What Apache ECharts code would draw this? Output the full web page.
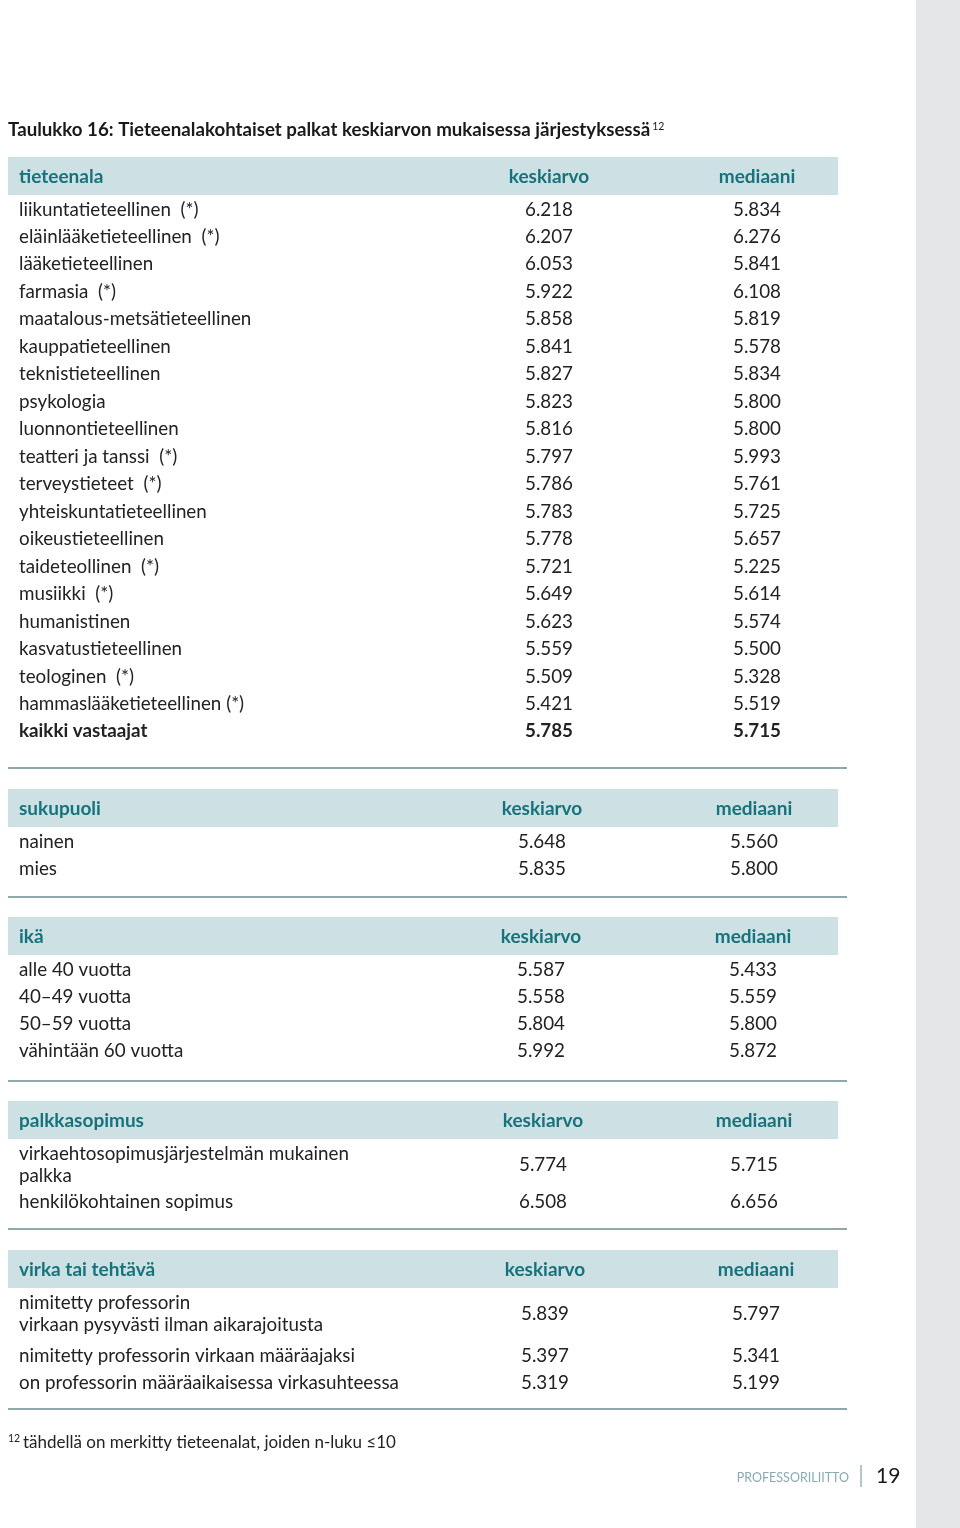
<!DOCTYPE html>
<html><head><meta charset="utf-8">
<script src="https://cdn.jsdelivr.net/npm/echarts@6/dist/echarts.min.js"></script>
<style>html,body{margin:0;padding:0;background:#fff}#main{width:960px;height:1528px}</style>
</head><body><div id="main"></div>
<script>
// ---- data ----
const titleText = 'Taulukko 16: Tieteenalakohtaiset palkat keskiarvon mukaisessa järjestyksessä';
const titleNote = '12';
const colHeaders = ['keskiarvo', 'mediaani'];
const sectionHeaders = ['tieteenala', 'sukupuoli', 'ikä', 'palkkasopimus', 'virka tai tehtävä'];

const fieldLabels = ['liikuntatieteellinen  (*)', 'eläinlääketieteellinen  (*)', 'lääketieteellinen', 'farmasia  (*)',
  'maatalous-metsätieteellinen', 'kauppatieteellinen', 'teknistieteellinen', 'psykologia', 'luonnontieteellinen',
  'teatteri ja tanssi  (*)', 'terveystieteet  (*)', 'yhteiskuntatieteellinen', 'oikeustieteellinen',
  'taideteollinen  (*)', 'musiikki  (*)', 'humanistinen', 'kasvatustieteellinen', 'teologinen  (*)',
  'hammaslääketieteellinen (*)'];
const fieldMean = [6.218, 6.207, 6.053, 5.922, 5.858, 5.841, 5.827, 5.823, 5.816, 5.797, 5.786, 5.783, 5.778, 5.721, 5.649, 5.623, 5.559, 5.509, 5.421];
const fieldMedian = [5.834, 6.276, 5.841, 6.108, 5.819, 5.578, 5.834, 5.800, 5.800, 5.993, 5.761, 5.725, 5.657, 5.225, 5.614, 5.574, 5.500, 5.328, 5.519];
const totalLabel = 'kaikki vastaajat';
const totalMean = 5.785;
const totalMedian = 5.715;

const genderLabels = ['nainen', 'mies'];
const genderMean = [5.648, 5.835];
const genderMedian = [5.560, 5.800];

const ageLabels = ['alle 40 vuotta', '40–49 vuotta', '50–59 vuotta', 'vähintään 60 vuotta'];
const ageMean = [5.587, 5.558, 5.804, 5.992];
const ageMedian = [5.433, 5.559, 5.800, 5.872];

const contractLabels = ['virkaehtosopimusjärjestelmän mukainen\npalkka', 'henkilökohtainen sopimus'];
const contractMean = [5.774, 6.508];
const contractMedian = [5.715, 6.656];

const positionLabels = ['nimitetty professorin\nvirkaan pysyvästi ilman aikarajoitusta', 'nimitetty professorin virkaan määräajaksi', 'on professorin määräaikaisessa virkasuhteessa'];
const positionMean = [5.839, 5.397, 5.319];
const positionMedian = [5.797, 5.341, 5.199];

const footnoteMark = '12';
const footnoteText = 'tähdellä on merkitty tieteenalat, joiden n-luku ≤10';
const footerBrand = 'PROFESSORILIITTO';
const pageNumber = '19';

// ---- layout ----
const FONT = 'Lato, "Open Sans", sans-serif';
const TXT = '#222222';
const HEAD_BG = '#cde0e4';
const HEAD_TXT = '#17737b';
const RULE = '#8fa8aa';

const cv = document.createElement('canvas').getContext('2d');
function measure(t, size, weight) { cv.font = (weight || 'normal') + ' ' + size + 'px ' + FONT; return cv.measureText(t).width; }

const fmt = v => v.toFixed(3);

const sections = [
  {head: sectionHeaders[0], labels: fieldLabels.concat([totalLabel]), mean: fieldMean.concat([totalMean]), median: fieldMedian.concat([totalMedian]), boldLast: true,
   top: 157, ruleY: 768, meanX: 549, medX: 757, step: 27.47, multiGap: 27},
  {head: sectionHeaders[1], labels: genderLabels, mean: genderMean, median: genderMedian, top: 789, ruleY: 897, meanX: 542, medX: 754, step: 27.3, multiGap: 27},
  {head: sectionHeaders[2], labels: ageLabels, mean: ageMean, median: ageMedian, top: 917, ruleY: 1081, meanX: 541, medX: 753, step: 27.3, multiGap: 27},
  {head: sectionHeaders[3], labels: contractLabels, mean: contractMean, median: contractMedian, top: 1101, ruleY: 1229, meanX: 543, medX: 754, step: 27.3, multiGap: 26},
  {head: sectionHeaders[4], labels: positionLabels, mean: positionMean, median: positionMedian, top: 1250, ruleY: 1409, meanX: 545, medX: 756, step: 27.3, multiGap: 31}
];

const g = [];
// right gray strip
g.push({type: 'rect', shape: {x: 916, y: 0, width: 44, height: 1528}, style: {fill: '#e4e6e7'}, silent: true});

// title
const titleSize = 18.7;
g.push({type: 'text', x: 8, y: 130, style: {text: titleText, fontFamily: FONT, fontSize: titleSize, fontWeight: 'bold', fill: '#1a1a1a', verticalAlign: 'middle'}});
g.push({type: 'text', x: 8 + measure(titleText, titleSize, 'bold') + 2, y: 127, style: {text: titleNote, fontFamily: FONT, fontSize: 10.5, fill: '#1a1a1a', verticalAlign: 'middle'}});

const ROW_SIZE = 18.8;
const LINE_H = 22;
sections.forEach(s => {
  g.push({type: 'rect', shape: {x: 8, y: s.top, width: 830, height: 38}, style: {fill: HEAD_BG}});
  const hy = s.top + 20;
  g.push({type: 'text', x: 19, y: hy, style: {text: s.head, fontFamily: FONT, fontSize: 19, fontWeight: 'bold', fill: HEAD_TXT, verticalAlign: 'middle'}});
  g.push({type: 'text', x: s.meanX, y: hy, style: {text: colHeaders[0], fontFamily: FONT, fontSize: 19, fontWeight: 'bold', fill: HEAD_TXT, align: 'center', verticalAlign: 'middle'}});
  g.push({type: 'text', x: s.medX, y: hy, style: {text: colHeaders[1], fontFamily: FONT, fontSize: 19, fontWeight: 'bold', fill: HEAD_TXT, align: 'center', verticalAlign: 'middle'}});
  let y = s.top + 52.5;
  s.labels.forEach((lab, i) => {
    const lines = lab.split('\n').length;
    const bold = s.boldLast && i === s.labels.length - 1;
    const w = bold ? 'bold' : 'normal';
    const vy = y + (lines - 1) * LINE_H / 2;
    g.push({type: 'text', x: 19, y: vy, style: {text: lab, fontFamily: FONT, fontSize: ROW_SIZE, fontWeight: w, fill: TXT, verticalAlign: 'middle', lineHeight: LINE_H}});
    g.push({type: 'text', x: s.meanX, y: vy, style: {text: fmt(s.mean[i]), fontFamily: FONT, fontSize: ROW_SIZE, fontWeight: w, fill: TXT, align: 'center', verticalAlign: 'middle'}});
    g.push({type: 'text', x: s.medX, y: vy, style: {text: fmt(s.median[i]), fontFamily: FONT, fontSize: ROW_SIZE, fontWeight: w, fill: TXT, align: 'center', verticalAlign: 'middle'}});
    y += lines > 1 ? (lines - 1) * LINE_H + s.multiGap : s.step;
  });
  g.push({type: 'line', shape: {x1: 8, y1: s.ruleY, x2: 847, y2: s.ruleY}, style: {stroke: RULE, lineWidth: 2}});
});

// footnote
g.push({type: 'text', x: 8, y: 1439, style: {text: footnoteMark, fontFamily: FONT, fontSize: 10.5, fill: TXT, verticalAlign: 'middle'}});
g.push({type: 'text', x: 23, y: 1443, style: {text: footnoteText, fontFamily: FONT, fontSize: 17, fill: TXT, verticalAlign: 'middle'}});

// footer
g.push({type: 'text', x: 849, y: 1478, style: {text: footerBrand, fontFamily: FONT, fontSize: 12.5, fill: '#8aaab3', align: 'right', verticalAlign: 'middle'}});
g.push({type: 'line', shape: {x1: 861, y1: 1465, x2: 861, y2: 1487}, style: {stroke: '#9ab3b8', lineWidth: 1.5}});
g.push({type: 'text', x: 876, y: 1476, style: {text: pageNumber, fontFamily: FONT, fontSize: 21, fill: '#1a1a1a', verticalAlign: 'middle'}});

const chart = echarts.init(document.getElementById('main'));
chart.setOption({animation: false, backgroundColor: '#ffffff', graphic: {elements: g}});
</script></body></html>
